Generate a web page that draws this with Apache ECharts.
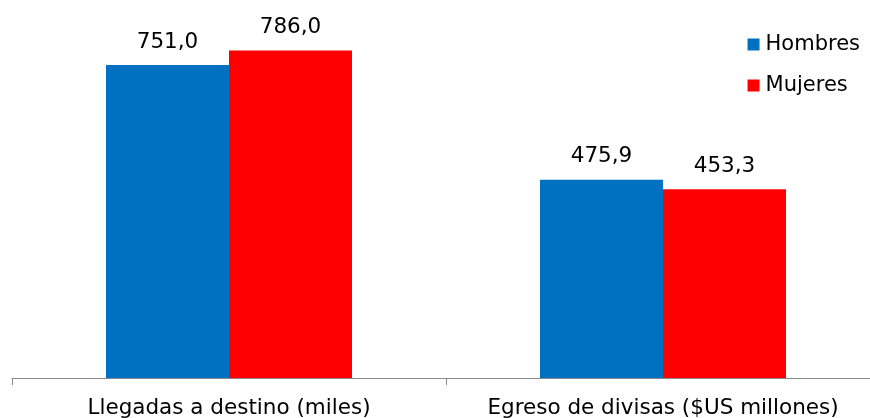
<!DOCTYPE html>
<html><head><meta charset="utf-8">
<script src="https://cdn.jsdelivr.net/npm/echarts@6/dist/echarts.min.js"></script>
<style>html,body{margin:0;padding:0;background:#fff}#c{width:870px;height:418px}</style>
</head><body><div id="c"></div>
<script>
const categories = ['Llegadas a destino (miles)', 'Egreso de divisas ($US millones)'];
const hombres = [751.0, 475.9];
const mujeres = [786.0, 453.3];
const seriesNames = ['Hombres', 'Mujeres'];

const font = 'DejaVu Sans, Verdana, sans-serif';
const fmt = p => p.value.toFixed(1).replace('.', ',');
const chart = echarts.init(document.getElementById('c'));
chart.setOption({
  animation: false,
  grid: {left: 12, width: 868, top: 3, height: 375, containLabel: false, outerBoundsMode: 'none'},
  legend: {
    orient: 'vertical', right: 5, top: 29, icon: 'rect', itemWidth: 12, itemHeight: 12,
    itemGap: 20,
    textStyle: {fontFamily: font, fontSize: 21, color: '#000', padding: [0,0,0,1]},
    data: seriesNames
  },
  xAxis: {
    type: 'category', data: categories,
    axisLine: {lineStyle: {color: '#888', width: 1}},
    axisTick: {show: true, length: 7, lineStyle: {color: '#888'}},
    axisLabel: {interval: 0, fontFamily: font, fontSize: 21.5, color: '#000', margin: 19}
  },
  yAxis: {type: 'value', min: 0, max: 900, show: false, splitLine: {show: false}},
  series: [
    {name: seriesNames[0], type: 'bar', data: hombres, barWidth: 123, barGap: '0%',
     itemStyle: {color: '#0070C0'},
     label: {show: true, position: 'top', distance: 12, formatter: fmt, fontFamily: font, fontSize: 21.5, color: '#000'}},
    {name: seriesNames[1], type: 'bar', data: mujeres, barWidth: 123, barGap: '0%',
     itemStyle: {color: '#FF0000'},
     label: {show: true, position: 'top', distance: 12, formatter: fmt, fontFamily: font, fontSize: 21.5, color: '#000'}}
  ]
});
</script></body></html>
